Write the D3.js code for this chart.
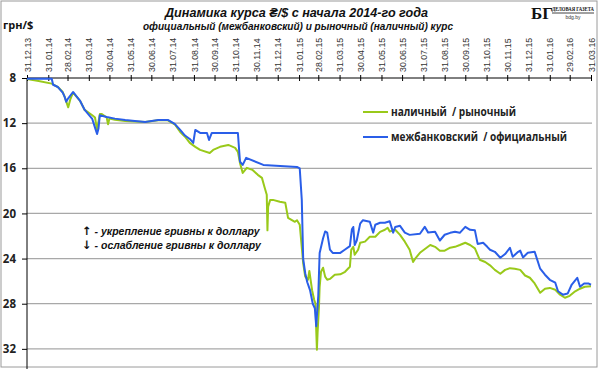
<!DOCTYPE html>
<html><head><meta charset="utf-8">
<script src="https://cdn.jsdelivr.net/npm/d3@7"></script>
<style>
html,body{margin:0;padding:0;background:#fff;}
svg{display:block;font-family:"Liberation Sans",Arial,sans-serif;}
</style></head>
<body>
<script>
// ---- data ----
const tickLabels = ["31.12.13","31.01.14","28.02.14","31.03.14","30.04.14","31.05.14","30.06.14","31.07.14","31.08.14","30.09.14","31.10.14","30.11.14","31.12.14","31.01.15","28.02.15","31.03.15","30.04.15","31.05.15","30.06.15","31.07.15","31.08.15","30.09.15","31.10.15","30.11.15","31.12.15","31.01.16","29.02.16","31.03.16"];
const yTicks = [8,12,16,20,24,28,32];
const seriesNames = ["наличный  / рыночный","межбанковский  / официальный"];

// cash / market rate (UAH per USD)
const marketSeries = [
["2013-12-31",8.1],["2014-01-15",8.25],["2014-02-05",8.5],["2014-02-14",8.8],["2014-02-21",9.24],
["2014-02-24",9.7],["2014-03-01",10.6],["2014-03-04",9.9],["2014-03-08",9.3],["2014-03-18",10.0],
["2014-03-25",10.83],["2014-04-05",11.3],["2014-04-09",11.5],["2014-04-12",12.6],["2014-04-16",11.2],
["2014-04-19",11.19],["2014-04-26",11.5],["2014-04-28",12.1],["2014-04-30",11.6],["2014-05-08",11.7],
["2014-05-23",11.8],["2014-06-06",11.85],["2014-06-21",11.9],["2014-07-10",11.75],["2014-07-24",11.75],
["2014-08-03",12.1],["2014-08-11",12.78],["2014-08-18",13.2],["2014-08-25",13.75],["2014-09-02",14.1],
["2014-09-09",14.37],["2014-09-23",14.64],["2014-09-28",14.37],["2014-10-08",14.1],["2014-10-20",13.93],
["2014-10-30",14.19],["2014-11-03",14.55],["2014-11-06",15.52],["2014-11-10",16.41],["2014-11-16",15.96],
["2014-11-24",16.14],["2014-12-02",16.58],["2014-12-08",16.85],["2014-12-12",17.73],["2014-12-15",18.35],
["2014-12-16",21.5],["2014-12-17",19.4],["2014-12-20",18.8],["2014-12-24",18.8],["2015-01-03",18.97],
["2015-01-11",19.06],["2015-01-15",20.39],["2015-01-25",20.74],["2015-01-28",20.6],["2015-02-01",21.0],
["2015-02-04",23.0],["2015-02-06",24.4],["2015-02-09",25.6],["2015-02-13",25.88],["2015-02-15",25.1],
["2015-02-19",26.8],["2015-02-22",27.65],["2015-02-24",28.0],["2015-02-25",30.3],["2015-02-26",32.07],
["2015-02-27",30.57],["2015-03-01",28.27],["2015-03-02",26.5],["2015-03-04",25.17],["2015-03-07",24.81],
["2015-03-10",25.6],["2015-03-13",25.88],["2015-03-17",25.8],["2015-03-24",25.43],["2015-04-01",25.4],
["2015-04-08",25.17],["2015-04-15",24.73],["2015-04-17",23.22],["2015-04-20",22.96],["2015-04-22",23.66],
["2015-04-27",23.22],["2015-04-30",22.6],["2015-05-07",22.5],["2015-05-14",22.07],["2015-05-22",22.07],
["2015-05-29",21.63],["2015-06-05",21.45],["2015-06-09",21.27],["2015-06-12",21.6],["2015-06-20",21.45],
["2015-06-27",21.9],["2015-07-04",22.5],["2015-07-11",23.22],["2015-07-16",24.3],["2015-07-20",23.93],
["2015-07-26",23.49],["2015-08-10",22.8],["2015-08-17",22.96],["2015-08-24",23.3],["2015-08-31",23.3],
["2015-09-08",23.04],["2015-09-15",22.96],["2015-09-22",22.8],["2015-09-30",22.6],["2015-10-07",22.8],
["2015-10-14",23.1],["2015-10-21",24.1],["2015-10-29",24.3],["2015-11-05",24.6],["2015-11-12",25.0],
["2015-11-20",25.35],["2015-11-27",25.0],["2015-12-04",24.85],["2015-12-11",24.9],["2015-12-19",25.0],
["2015-12-26",25.5],["2016-01-02",25.7],["2016-01-09",26.2],["2016-01-17",27.03],["2016-01-24",26.67],
["2016-01-31",26.6],["2016-02-08",26.76],["2016-02-15",27.2],["2016-02-22",27.47],["2016-02-29",27.3],
["2016-03-08",26.9],["2016-03-15",26.67],["2016-03-22",26.5],["2016-03-31",26.45]
];

// interbank / official rate
const interbankSeries = [
["2013-12-31",8.06],["2014-02-05",8.06],["2014-02-07",8.6],["2014-02-14",8.8],["2014-02-21",9.3],
["2014-02-24",9.7],["2014-02-26",10.1],["2014-03-01",9.8],["2014-03-08",9.24],["2014-03-18",10.0],
["2014-03-25",10.83],["2014-04-05",11.63],["2014-04-09",12.4],["2014-04-12",12.96],["2014-04-14",12.5],
["2014-04-16",11.3],["2014-04-26",11.45],["2014-05-08",11.6],["2014-05-23",11.72],["2014-06-06",11.8],
["2014-06-21",11.89],["2014-07-10",11.72],["2014-07-24",11.72],["2014-08-03",12.07],["2014-08-11",12.6],
["2014-08-18",13.1],["2014-08-25",13.4],["2014-08-30",13.75],["2014-09-02",12.6],["2014-09-09",12.87],
["2014-09-19",12.87],["2014-09-22",13.49],["2014-09-26",12.87],["2014-11-03",12.87],["2014-11-06",15.4],
["2014-11-10",15.7],["2014-11-15",15.08],["2014-12-10",15.7],["2015-01-28",15.88],["2015-02-01",16.0],
["2015-02-04",18.8],["2015-02-06",24.0],["2015-02-09",25.3],["2015-02-12",26.1],["2015-02-16",26.8],
["2015-02-20",28.0],["2015-02-23",28.4],["2015-02-25",30.0],["2015-02-28",27.3],["2015-03-02",23.5],
["2015-03-07",22.2],["2015-03-10",21.6],["2015-03-13",21.7],["2015-03-17",23.2],["2015-03-21",23.5],
["2015-04-01",23.5],["2015-04-08",23.2],["2015-04-15",22.9],["2015-04-18",21.4],["2015-04-20",21.2],
["2015-04-22",22.8],["2015-04-25",22.4],["2015-04-30",20.9],["2015-05-04",20.6],["2015-05-14",20.74],
["2015-05-19",21.7],["2015-05-22",21.0],["2015-05-29",20.83],["2015-06-05",20.83],["2015-06-12",20.7],
["2015-06-17",21.7],["2015-06-20",21.2],["2015-06-27",21.1],["2015-07-04",21.7],["2015-07-11",21.9],
["2015-07-26",21.8],["2015-08-02",21.19],["2015-08-07",21.7],["2015-08-17",21.63],["2015-08-24",22.4],
["2015-08-31",21.89],["2015-09-08",21.72],["2015-09-15",21.63],["2015-09-22",21.72],["2015-09-30",21.19],
["2015-10-07",21.45],["2015-10-14",21.5],["2015-10-18",22.7],["2015-10-26",22.6],["2015-11-01",22.96],
["2015-11-05",23.22],["2015-11-12",23.4],["2015-11-20",23.93],["2015-11-27",23.6],["2015-12-04",23.04],
["2015-12-08",23.84],["2015-12-16",23.4],["2015-12-19",23.3],["2015-12-23",23.9],["2015-12-30",23.49],
["2016-01-09",23.4],["2016-01-17",24.9],["2016-01-24",25.43],["2016-01-31",25.88],["2016-02-08",26.14],
["2016-02-12",26.9],["2016-02-19",27.2],["2016-02-26",27.1],["2016-03-03",26.3],["2016-03-11",25.7],
["2016-03-15",26.5],["2016-03-21",26.2],["2016-03-27",26.2],["2016-03-31",26.32]
];

// ---- drawing ----
const W = 600, H = 369;
const parseTick = d3.timeParse("%d.%m.%y");
const parseISO = d3.timeParse("%Y-%m-%d");
const tickDates = tickLabels.map(parseTick);

const svg = d3.select("body").append("svg").attr("width", W).attr("height", H);

const x = d3.scaleTime()
  .domain([tickDates[0], tickDates[tickDates.length-1]])
  .range([27, 591]);
const y = d3.scaleLinear().domain([8, 36]).range([78, 394]);

// frame
svg.append("rect").attr("x",1).attr("y",1).attr("width",596).attr("height",366)
  .attr("fill","none").attr("stroke","#9a9a9a").attr("stroke-width",1);

// gridlines
svg.append("g").selectAll("line").data(yTicks.filter(d => d !== 8)).join("line")
  .attr("x1", 27).attr("x2", 592)
  .attr("y1", d => y(d)).attr("y2", d => y(d))
  .attr("stroke", "#a8a8a8").attr("stroke-width", 1.3);

// Y axis
const yAxis = svg.append("g").attr("transform","translate(27,0)")
  .call(d3.axisLeft(y).tickValues(yTicks).tickSize(5).tickPadding(6).tickFormat(d3.format("d")));
yAxis.select(".domain").attr("d", `M0,${y(8)}V${H}`).attr("stroke","#000");
yAxis.selectAll(".tick line").attr("stroke","#000");
yAxis.selectAll("text").attr("font-size", 11.5).attr("font-weight","bold").attr("fill","#222")
  .attr("font-family","'Open Sans',sans-serif");

// X axis (top)
const fmt = d3.timeFormat("%d.%m.%y");
const xAxis = svg.append("g").attr("transform", `translate(0,${y(8)})`)
  .call(d3.axisTop(x).tickValues(tickDates).tickSize(3).tickSizeOuter(0).tickFormat(fmt));
xAxis.select(".domain").attr("stroke","#000").attr("d", `M27,0H592`);
xAxis.selectAll(".tick line").attr("stroke","#000").attr("y2", 3).attr("y1", -3);
xAxis.selectAll("text")
  .attr("transform","rotate(-90)")
  .attr("text-anchor","start")
  .attr("x", 6).attr("y", 0).attr("dy","0.35em")
  .attr("font-size", 8.8).attr("fill","#333")
  .attr("font-family","'Liberation Sans',Arial,sans-serif");

// lines
const line = d3.line().x(d => x(parseISO(d[0]))).y(d => y(d[1]));
svg.append("path").datum(marketSeries).attr("d", line)
  .attr("fill","none").attr("stroke","#99c91a").attr("stroke-width",2).attr("stroke-linejoin","round");
svg.append("path").datum(interbankSeries).attr("d", line)
  .attr("fill","none").attr("stroke","#2a5ee8").attr("stroke-width",2).attr("stroke-linejoin","round");

// legend
const legendColors = ["#99c91a","#2a5ee8"];
const legendWidths = [125, 176];
const lg = svg.append("g").attr("transform","translate(363,0)");
seriesNames.forEach((n,i) => {
  const yy = 112 + i*25;
  lg.append("line").attr("x1",0).attr("x2",25).attr("y1",yy).attr("y2",yy)
    .attr("stroke",legendColors[i]).attr("stroke-width",2);
  lg.append("text").attr("x",28).attr("y",yy).attr("dy","0.35em")
    .attr("font-size",12).attr("font-weight","bold").attr("fill","#222")
    .attr("font-family","'Open Sans',sans-serif")
    .attr("textLength", legendWidths[i]).attr("lengthAdjust","spacingAndGlyphs")
    .style("white-space","pre").text(n);
});

// titles
svg.append("text").attr("x", 165).attr("y", 16.5)
  .attr("font-size", 13.5).attr("font-weight","bold").attr("font-style","italic").attr("fill","#111")
  .attr("font-family","'Liberation Sans',Arial,sans-serif")
  .attr("textLength", 263).attr("lengthAdjust","spacingAndGlyphs")
  .text("Динамика курса ₴/$ с начала 2014-го года");
svg.append("text").attr("x", 143).attr("y", 29.5)
  .attr("font-size", 10).attr("font-weight","bold").attr("font-style","italic").attr("fill","#111")
  .attr("font-family","'Liberation Sans',Arial,sans-serif")
  .attr("textLength", 310).attr("lengthAdjust","spacingAndGlyphs")
  .text("официальный (межбанковский) и рыночный (наличный) курс");
svg.append("text").attr("x", 3).attr("y", 29)
  .attr("font-size", 11).attr("font-weight","bold").attr("fill","#111")
  .attr("font-family","'Open Sans',sans-serif").text("грн/$");

// annotation
const ann = [["↑"," - укрепление гривны к доллару"],["↓"," - ослабление гривны к доллару"]];
ann.forEach((t,i) => {
  const tx = svg.append("text").attr("x", 82).attr("y", 235 + i*14)
    .attr("font-weight","bold").attr("fill","#111")
    .attr("font-family","'Liberation Sans',Arial,sans-serif");
  tx.append("tspan").attr("font-size", 11.5).attr("font-family","'DejaVu Sans',sans-serif").text(t[0]);
  tx.append("tspan").attr("font-size", 10.5).attr("font-style","italic").text(t[1]);
});

// logo
const logo = svg.append("g");
logo.append("text").attr("x", 531).attr("y", 19).attr("font-size", 17).attr("font-weight","bold")
  .attr("font-family","'Liberation Serif',serif").attr("fill","#111").text("БГ");
logo.append("text").attr("x", 552).attr("y", 11).attr("font-size", 5.5).attr("font-weight","bold")
  .attr("font-family","'Liberation Serif',serif").attr("fill","#111")
  .attr("textLength", 42).attr("lengthAdjust","spacingAndGlyphs").text("ДЕЛОВАЯ ГАЗЕТА");
logo.append("line").attr("x1",552).attr("x2",594).attr("y1",13).attr("y2",13).attr("stroke","#111").attr("stroke-width",0.8);
logo.append("text").attr("x", 573).attr("y", 19).attr("font-size", 5).attr("text-anchor","middle")
  .attr("font-family","'Liberation Sans',sans-serif").attr("fill","#333").text("bdg.by");
</script>
</body></html>
